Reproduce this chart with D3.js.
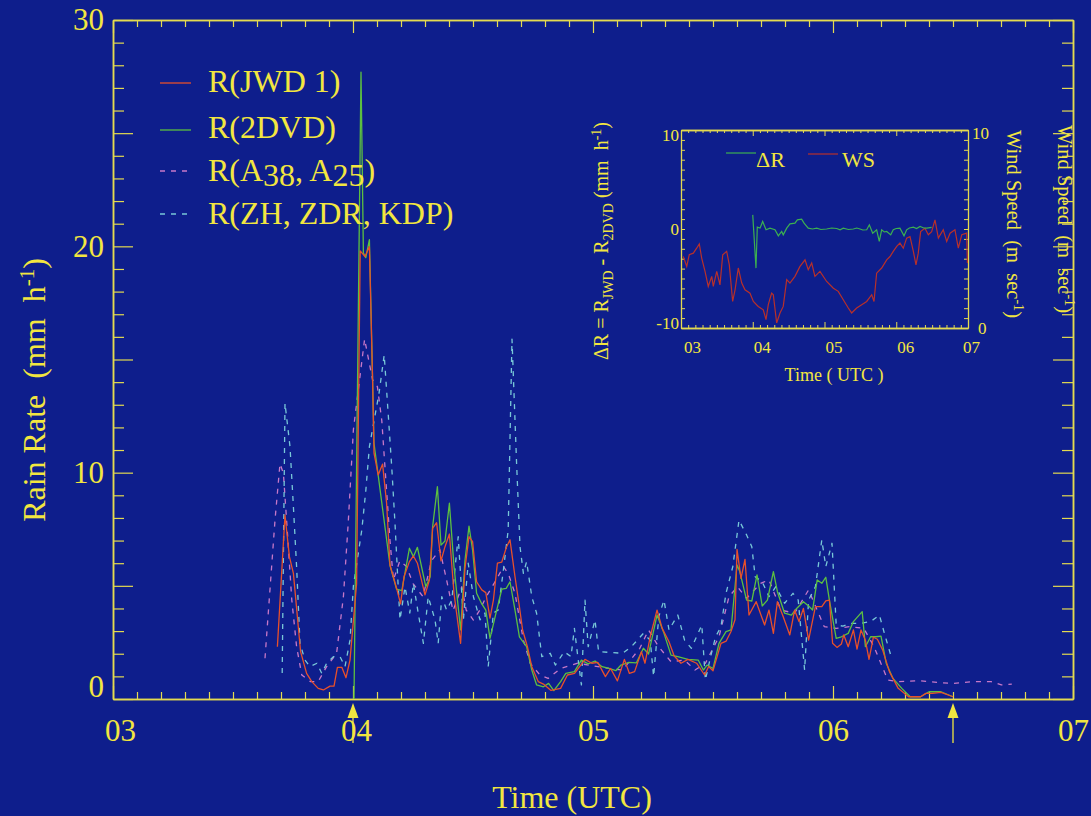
<!DOCTYPE html>
<html><head><meta charset="utf-8">
<script src="https://cdn.jsdelivr.net/npm/d3@7"></script>
<style>
body{margin:0;background:#0e1e8c;}
svg{display:block;}
text{white-space:pre;font-family:"Liberation Serif","Times New Roman",serif;}
</style>
</head><body>
<svg id="c" width="1091" height="816"></svg>
<script>
// ---------- DATA (time in minutes after 03:00 UTC) ----------
const hourLabels = ["03","04","05","06","07"];
const hourMinutes = [0,60,120,180,240];
const yLabels = [0,10,20,30];
const arrowMinutes = [60,210];

const seriesNames = ["R(JWD 1)","R(2DVD)","R(A38, A25)","R(ZH, ZDR, KDP)"];

const jwdMin = [41.1,43,44.1,45.1,46.9,48.4,49.7,51.3,52.6,54.25,55.25,56.1,57.2,58.25,59.25,60.9,61.8,63,64.1,64.9,65.25,66.3,67.4,68.4,69.25,70.9,71.9,72.75,74.1,75.1,76.1,78,79.1,79.9,80.9,82,83,84.1,85.25,86.9,88,89,89.9,90.9,92.2,93.2,94.25,95.1,96.1,97.2,98.4,99.25,100.5,101.6,102.4,103.6,104.7,106.3,107.6,109.5,111.9,113.6,115.4,118,119.7,121.2,123.1,124.4,126.1,127.85,129.1,130.4,132.1,133,134.3,136,137.3,139,140.3,142,143.75,145.9,147.9,148.9,150,152,153.3,154.5,155.5,156,157,158,159,160.8,162.9,164,165.1,166.1,167.4,169.2,170.4,171.5,172.6,173.9,175.6,177.2,178.2,179.1,179.9,181,182.1,182.7,183.8,185.1,186,187,188.1,189,190.1,191.1,192.4,194.1,196.3,198.9,201.9,203.2,204.9,207,210];
const jwdRate = [2.31,8.13,6.29,5.55,2.09,1.13,0.77,0.47,0.40,0.57,0.57,1.40,1.40,0.94,1.72,5.1,19.8,19.55,19.99,14.1,10.86,9.9,10.38,8.65,5.92,4.89,4.2,5.4,6.07,6.32,6.0,4.6,5.26,7.54,7.79,6.1,6.73,7.29,4.67,2.46,5.78,7.17,6.95,5.18,4.82,4.7,3.57,4.37,6.0,6.05,6.73,7.03,5.4,4.08,3.05,2.31,1.43,0.77,0.66,0.38,0.47,1.06,1.13,1.75,1.58,1.62,0.99,1.35,0.80,1.75,1.13,1.21,2.09,1.58,2.75,3.93,3.12,2.53,1.90,1.58,1.75,1.58,1.06,1.43,1.25,2.46,2.56,2.98,3.5,6.61,5.33,6.17,3.71,4.30,3.27,3.93,2.90,4.3,3.71,2.83,3.93,3.42,4.0,2.6,4.08,4.08,4.34,4.37,2.46,2.28,2.43,2.83,2.31,3.05,2.2,3.05,2.6,1.75,2.73,2.64,2.17,1.21,0.47,0.10,0.10,0.25,0.25,0.29,0.10];

const dvdMin = [60.25,62,62.6,63.2,64.1,65.25,69.25,70.9,72.2,74.1,75.1,76.1,78.2,79.3,79.9,81.1,82,83,84.1,85.25,86.9,88,89,89.9,90.9,92.2,93.2,94.25,95.75,97.2,98.3,99.25,100.5,101.6,103.4,104.7,105.9,107.6,108.9,110.2,111.9,113.2,115.35,117.1,118.8,120.5,122.25,124,125.7,127,128.95,130.85,132.6,133.9,136,137.75,139.5,141.2,143.75,146.3,147.6,148.5,150,151.5,153.25,154.5,156,156.7,158.4,159.7,161,162.3,163.6,165.1,166.1,167.9,169.6,170.9,172.6,173.9,174.9,176.05,177.2,178.2,179.1,180.8,182.1,183.8,185.1,187.3,188.1,189.4,190.7,192,193.3,195,197.2,199.3,201.9,204,207,210];
const dvdRate = [0,27.7,19.7,19.5,20.3,11.3,5.9,4.85,4.79,6.66,6.29,6.7,4.96,5.4,7.6,9.38,6.8,6.98,8.65,5.85,3.05,6.14,7.64,6.58,4.67,4.2,3.93,2.68,3.79,4.85,4.89,5.18,3.93,2.75,2.31,1.28,0.62,0.54,0.69,0.37,0.77,1.13,1.21,1.72,1.55,1.68,1.43,1.35,1.25,1.5,1.62,1.6,2.24,1.99,3.71,2.9,1.94,1.87,1.75,1.72,1.28,1.5,1.35,2.46,2.98,3.05,5.92,5.63,4.37,4.33,5.48,4.11,4.37,5.63,4.74,3.79,3.71,4.0,4.3,4.11,3.93,5.26,5.11,5.38,4.37,2.68,2.75,2.9,3.42,3.86,2.31,2.75,2.75,2.78,1.58,0.91,0.47,0.10,0.10,0.32,0.32,0.10];

const attMin = [38,40.5,41.75,42.6,43.4,44.7,45.9,47.2,49.3,51.3,53.4,55.9,57.6,58.8,60.1,62.9,64.9,66.1,67.2,68.1,69.25,70.1,71.7,73.4,75,77.5,79.6,81.7,83.4,85,87.2,88.3,90.1,91.7,93.3,95.8,97.6,98.8,100.5,102.6,104.3,106.75,108.8,111.9,116.2,124,127.4,131.7,133.9,136.4,139.5,142.9,145.5,148.1,151.5,154,156.1,158.4,161.9,164,167,170.4,173.9,177.8,180.8,184.2,187.7,190.25,193.7,196.3,201.5,206.6,210,215.2,219.5,222.1,224.7];
const attRate = [1.8,7.9,10.4,9.97,7.9,4.37,2.31,1.06,0.77,0.77,1.43,2.02,4.52,7.76,11.9,15.9,14.1,13.8,12.3,9.97,7.0,5.26,6.1,5.85,5.1,4.52,6.1,6.6,5.26,3.9,4.96,3.93,3.49,3.93,4.52,5.26,5.85,5.55,4.67,2.6,1.58,1.06,0.91,1.35,1.58,1.35,1.28,2.24,3.05,2.31,1.65,1.72,1.28,1.58,2.75,4.52,4.96,4.45,5.11,5.26,3.93,3.79,4.82,3.2,3.12,3.2,3.12,2.31,0.84,0.77,0.81,0.72,0.69,0.77,0.77,0.62,0.66];

const polMin = [42.3,43,44.25,45.1,45.9,46.75,48,49.25,51,52.2,53.4,55.1,56.75,58,59.25,60.1,62.2,63.2,64.1,66.5,67.8,68.8,69.7,70.5,71.3,71.75,73,74.2,75.1,76.3,77.6,78.8,80.5,81.3,82.2,83.4,84.7,86.3,87.6,88.8,90.1,91.75,93,93.8,95.1,96.3,97.6,98.8,99.75,100.9,101.75,102.6,103.4,104.7,105.9,107.2,109.3,110.6,112.8,114.5,115.35,116.2,117.1,118,118.8,120.5,121.4,124,127.4,129.6,132.6,134.3,135.15,136.45,137.75,139,141.2,142.9,144.6,147.2,148.1,149.4,150.65,152,153.25,154.95,156.5,158.4,159.7,160.55,162.3,164,165.7,167.9,170,171.3,172.9,173.9,175.6,177.2,178.2,179.75,180.8,182.5,184.2,186.8,189.4,191.6,192.85,194.55];
const polRate = [1.15,13.07,11.15,8.5,5.85,2.46,1.72,1.43,1.58,1.13,1.58,1.87,1.87,1.43,2.6,5.0,7.47,9.2,11.15,13.5,15.2,12.6,10.2,7.76,4.96,3.5,4.96,3.8,5.11,3.8,2.46,4.52,3.5,2.46,4.52,3.93,4.37,7.17,3.5,6.0,4.52,3.5,3.8,1.43,3.8,3.93,5.7,7.47,15.9,10.4,6.73,5.55,6.07,4.52,3.79,1.87,2.02,1.5,2.09,1.87,3.12,1.87,0.62,4.37,2.31,3.49,2.09,2.06,2.02,2.31,2.9,2.6,0.99,3.64,4.37,3.05,3.71,2.6,2.24,3.27,0.84,1.87,2.75,3.2,4.67,5.85,7.9,7.25,6.73,5.4,5.18,4.52,4.96,4.23,4.67,4.37,1.28,4.37,4.96,7.03,5.85,6.88,3.27,3.22,3.34,3.34,3.42,3.71,2.9,1.87];

// inset data
const insetLegend = ["\u0394R","WS"];
const dRMin = [60.0,62.7,63.8,66.1,68.3,71.1,74.4,78.6,81.4,84.2,85.5,88.4,91.1,95.3,97.3,100.9,102.9,106.4,110,113.5,117,121.8,126,130.2,133,135.7,140,144.1,147,149.7,152,155.3,157.5,160.3,163.6,165.8,167.8,170,172,175.4,177.5,180,183.1,186.5,188.7,191,194.3,197,199.9,203,205.5,209.6];
const dRVal = [1.43,-3.95,0.19,0.09,0.76,-0.08,0.09,-0.08,-0.69,-0.25,-0.59,0.09,0.52,0.59,0.93,1.0,0.59,0.09,0.0,0.09,-0.05,0.0,0.1,0.05,-0.08,0.09,-0.05,0.0,0.1,0.0,-0.1,-0.08,0.42,-0.42,-0.08,-1.26,-0.08,-0.3,-0.25,-0.59,-0.08,0.05,0.09,-0.69,-0.08,0.1,0.19,0.05,0.26,0.1,0.09,0.16];
const wsMin = [1.9,4.8,6.9,10.3,13.1,15.3,17.3,20.1,22.8,25.7,27,29.9,32.6,34.9,38.2,40.4,43.2,45.2,47.9,50.8,53.5,57.7,60.5,64.6,68.8,71.1,73,75.8,77.2,80,82.8,85.5,88.4,91.1,95.3,99.5,103.7,106.4,109.3,112,116.2,121.8,127.4,131.5,135.7,139.9,142.7,146.9,151.1,155.3,159.5,161.4,163.6,167.8,172,174.8,177.5,180.4,183.1,185.9,188.7,191.5,194.3,196.5,198.4,200.4,204,206.8,209.6,212.4,215.2,219.3,222.2,225,229.1,231.9,234.8,238.9,239.5];
const wsVal = [3.62,3.11,3.7,3.78,4.03,4.25,3.53,2.86,2.1,2.61,2.1,2.86,2.18,3.7,3.87,3.19,1.34,1.93,3.03,2.27,1.93,1.76,1.34,1.09,0.92,0.42,1.18,1.76,1.68,0.25,0.76,1.09,2.44,2.27,2.61,3.11,3.44,2.94,3.28,2.61,2.86,2.35,2.01,1.85,1.43,1.01,0.76,1.01,1.18,1.34,1.68,1.34,2.77,3.03,3.44,3.61,3.87,4.12,4.29,4.03,4.54,4.62,3.87,3.19,3.78,4.87,5.04,4.71,4.87,5.46,4.54,4.96,4.37,4.79,4.96,4.03,4.71,4.79,3.28];

// ---------- STYLE ----------
const YEL = "#f2e640", AX = "#e4da50";
const C_RED = "#e8502a", C_GRN = "#5cc040", C_PUR = "#c878c8", C_CYN = "#78c8d8";
const C_DR = "#3cb050", C_WS = "#b8302a";

const svg = d3.select("#c");
svg.append("rect").attr("width",1091).attr("height",816).attr("fill","#0e1e8c");

const x = d3.scaleLinear().domain([0,240]).range([113,1073]);
const y = d3.scaleLinear().domain([0,30]).range([699,20]);

// right-side rotated label (drawn first, axis overlaps it)
svg.append("text").attr("transform","translate(1058,219) rotate(90)")
  .attr("text-anchor","middle").attr("fill",YEL).attr("font-size",20.5)
  .call(t=>{t.append("tspan").text("Wind Speed  (m  sec");
            t.append("tspan").attr("dy",-7).attr("font-size",14).text("-1");
            t.append("tspan").attr("dy",7).text(")");});

// ---------- main axes ----------
function styleAxis(g){
  g.selectAll("path.domain").attr("stroke",AX).attr("stroke-width",1.5);
  g.selectAll(".tick line").attr("stroke",AX).attr("stroke-width",1.2);
  g.selectAll("text").attr("fill",YEL).attr("font-family","Liberation Serif").attr("font-size",31);
}
const minorX = d3.range(0,241,6).filter(m=>m%60!==0);
svg.append("g").attr("transform","translate(0,699)")
  .call(d3.axisBottom(x).tickValues(minorX).tickSize(-7).tickSizeOuter(0).tickFormat("")).call(styleAxis);
svg.append("g").attr("transform","translate(0,699)")
  .call(d3.axisBottom(x).tickValues(hourMinutes).tickSize(-13).tickSizeOuter(0)
        .tickFormat((d,i)=>hourLabels[i])).call(styleAxis)
  .call(g=>g.selectAll("text").attr("y",42).attr("dy",null)
        .attr("dx",(d,i)=>i===0?7:(i===1?3:0)));
svg.append("g").attr("transform","translate(0,20)")
  .call(d3.axisTop(x).tickValues(minorX).tickSize(-7).tickSizeOuter(0).tickFormat("")).call(styleAxis);
svg.append("g").attr("transform","translate(0,20)")
  .call(d3.axisTop(x).tickValues(hourMinutes).tickSize(-13).tickSizeOuter(0).tickFormat("")).call(styleAxis);

const minorY = d3.range(0,31,1).filter(v=>v%5!==0);
const majorY = d3.range(0,31,5);
svg.append("g").attr("transform","translate(113,0)")
  .call(d3.axisLeft(y).tickValues(minorY).tickSize(-11).tickSizeOuter(0).tickFormat("")).call(styleAxis);
svg.append("g").attr("transform","translate(113,0)")
  .call(d3.axisLeft(y).tickValues(majorY).tickSize(-20).tickSizeOuter(0)
        .tickFormat(d=>yLabels.includes(d)?String(d):"")).call(styleAxis)
  .call(g=>g.selectAll("text").attr("x",-9).attr("dy",d=>d===0?"-0.08em":"0.32em"));
svg.append("g").attr("transform","translate(1073,0)")
  .call(d3.axisRight(y).tickValues(minorY).tickSize(-11).tickSizeOuter(0).tickFormat("")).call(styleAxis);
svg.append("g").attr("transform","translate(1073,0)")
  .call(d3.axisRight(y).tickValues(majorY).tickSize(-20).tickSizeOuter(0).tickFormat("")).call(styleAxis);

// axis titles
svg.append("text").attr("x",572).attr("y",808).attr("text-anchor","middle")
  .attr("fill",YEL).attr("font-size",32).text("Time (UTC)");
svg.append("text").attr("transform","translate(45,390) rotate(-90)")
  .attr("text-anchor","middle").attr("fill",YEL).attr("font-size",32)
  .call(t=>{t.append("tspan").text("Rain Rate  (mm  h");
            t.append("tspan").attr("dy",-11).attr("font-size",21).text("-1");
            t.append("tspan").attr("dy",11).text(")");});

// arrows
arrowMinutes.forEach(m=>{
  const ax = x(m);
  svg.append("line").attr("x1",ax).attr("x2",ax).attr("y1",712).attr("y2",743)
    .attr("stroke",YEL).attr("stroke-width",1.3);
  svg.append("path").attr("d",`M${ax},703L${ax-5.5},718L${ax+5.5},718Z`).attr("fill",YEL);
});

// ---------- main series ----------
const line = d3.line().x(d=>x(d[0])).y(d=>y(d[1]));
const zip = (a,b)=>a.map((v,i)=>[v,b[i]]);
const series = [
  {t:attMin,v:attRate,c:C_PUR,dash:"5,6"},
  {t:polMin,v:polRate,c:C_CYN,dash:"5,6"},
  {t:dvdMin,v:dvdRate,c:C_GRN,dash:null},
  {t:jwdMin,v:jwdRate,c:C_RED,dash:null}
];
series.forEach(s=>{
  svg.append("path").attr("d",line(zip(s.t,s.v))).attr("fill","none")
    .attr("stroke",s.c).attr("stroke-width",1.3).attr("stroke-dasharray",s.dash)
    .attr("stroke-linejoin","round");
});

// legend
const legColors = [C_RED,C_GRN,C_PUR,C_CYN];
const legDash = [null,null,"5,6","5,6"];
const legLineY = [83,130,171,214];
const legBase = [92,138,181,224];
seriesNames.forEach((n,i)=>{
  svg.append("line").attr("x1",160).attr("x2",i<2?191:188).attr("y1",legLineY[i]).attr("y2",legLineY[i])
    .attr("stroke",legColors[i]).attr("stroke-width",1.3).attr("stroke-dasharray",legDash[i]);
  const t = svg.append("text").attr("x",208).attr("y",legBase[i]).attr("fill",YEL).attr("font-size",32);
  if(i===2){
    t.append("tspan").text("R(A");
    t.append("tspan").attr("dy",5).text("38");
    t.append("tspan").attr("dy",-5).text(", A");
    t.append("tspan").attr("dy",5).text("25");
    t.append("tspan").attr("dy",-5).text(")");
  } else t.text(n);
});

// ---------- inset ----------
const ix = d3.scaleLinear().domain([0,240]).range([681,968]);
const iyL = d3.scaleLinear().domain([-10,10]).range([328,130]);
const iyR = d3.scaleLinear().domain([0,10]).range([328,130]);
function styleInset(g){
  g.selectAll("path.domain").attr("stroke",AX).attr("stroke-width",1.3);
  g.selectAll(".tick line").attr("stroke",AX).attr("stroke-width",1);
}
const iMinor = d3.range(0,241,6).filter(m=>m%60!==0);
[[328,d3.axisBottom,-3,iMinor],[328,d3.axisBottom,-6,hourMinutes],[130,d3.axisTop,-3,iMinor],[130,d3.axisTop,-6,hourMinutes]]
 .forEach(([yy,fn,sz,vals])=>{
  svg.append("g").attr("transform",`translate(0,${yy})`)
   .call(fn(ix).tickValues(vals).tickSize(sz).tickSizeOuter(0).tickFormat("")).call(styleInset);
 });
svg.append("g").attr("transform","translate(681,0)")
  .call(d3.axisLeft(iyL).tickValues(d3.range(-10,11,1)).tickSize(-4).tickSizeOuter(0).tickFormat("")).call(styleInset);
svg.append("g").attr("transform","translate(968,0)")
  .call(d3.axisRight(iyR).tickValues(d3.range(0,10.01,0.5)).tickSize(-4).tickSizeOuter(0).tickFormat("")).call(styleInset);

// inset tick labels
const iFont = 17;
hourMinutes.forEach((m,i)=>{
  svg.append("text").attr("x",ix(m)+(i===0?3:(i===4?-5:1))).attr("y",353).attr("fill",YEL)
    .attr("font-size",iFont).text(hourLabels[i]);
});
[[10,5],[0,0],[-10,-5]].forEach(([v,off])=>{
  svg.append("text").attr("x",679).attr("y",iyL(v)+off).attr("dy","0.35em").attr("text-anchor","end")
    .attr("fill",YEL).attr("font-size",iFont).text(String(v));
});
[[10,3,972],[0,0,978]].forEach(([v,off,xx])=>{
  svg.append("text").attr("x",xx).attr("y",iyR(v)+off).attr("dy","0.35em")
    .attr("fill",YEL).attr("font-size",iFont).text(String(v));
});
svg.append("text").attr("x",834).attr("y",381).attr("text-anchor","middle")
  .attr("fill",YEL).attr("font-size",18).text("Time ( UTC )");

// inset rotated labels
svg.append("text").attr("transform","translate(601,241) rotate(-90)").attr("y",7)
  .attr("text-anchor","middle").attr("fill",YEL).attr("font-size",20)
  .call(t=>{t.append("tspan").text("\u0394R = R");
            t.append("tspan").attr("dy",5).attr("font-size",14).text("JWD");
            t.append("tspan").attr("dy",-5).text(" - R");
            t.append("tspan").attr("dy",5).attr("font-size",14).text("2DVD");
            t.append("tspan").attr("dy",-5).text(" (mm  h");
            t.append("tspan").attr("dy",-7).attr("font-size",14).text("-1");
            t.append("tspan").attr("dy",7).text(")");});
svg.append("text").attr("transform","translate(1007,224) rotate(90)")
  .attr("text-anchor","middle").attr("fill",YEL).attr("font-size",20.5)
  .call(t=>{t.append("tspan").text("Wind Speed  (m  sec");
            t.append("tspan").attr("dy",-7).attr("font-size",14).text("-1");
            t.append("tspan").attr("dy",7).text(")");});

// inset series
svg.append("path").attr("d",d3.line().x(d=>ix(d[0])).y(d=>iyR(d[1]))(zip(wsMin,wsVal)))
  .attr("fill","none").attr("stroke",C_WS).attr("stroke-width",1.2);
svg.append("path").attr("d",d3.line().x(d=>ix(d[0])).y(d=>iyL(d[1]))(zip(dRMin,dRVal)))
  .attr("fill","none").attr("stroke",C_DR).attr("stroke-width",1.2);

// inset legend
svg.append("line").attr("x1",726).attr("x2",756).attr("y1",153).attr("y2",153).attr("stroke",C_DR).attr("stroke-width",1.2);
svg.append("text").attr("x",756).attr("y",167).attr("fill",YEL).attr("font-size",22).text(insetLegend[0]);
svg.append("line").attr("x1",808).attr("x2",838).attr("y1",154).attr("y2",154).attr("stroke",C_WS).attr("stroke-width",1.2);
svg.append("text").attr("x",842).attr("y",167).attr("fill",YEL).attr("font-size",22).text(insetLegend[1]);
</script>
</body></html>
